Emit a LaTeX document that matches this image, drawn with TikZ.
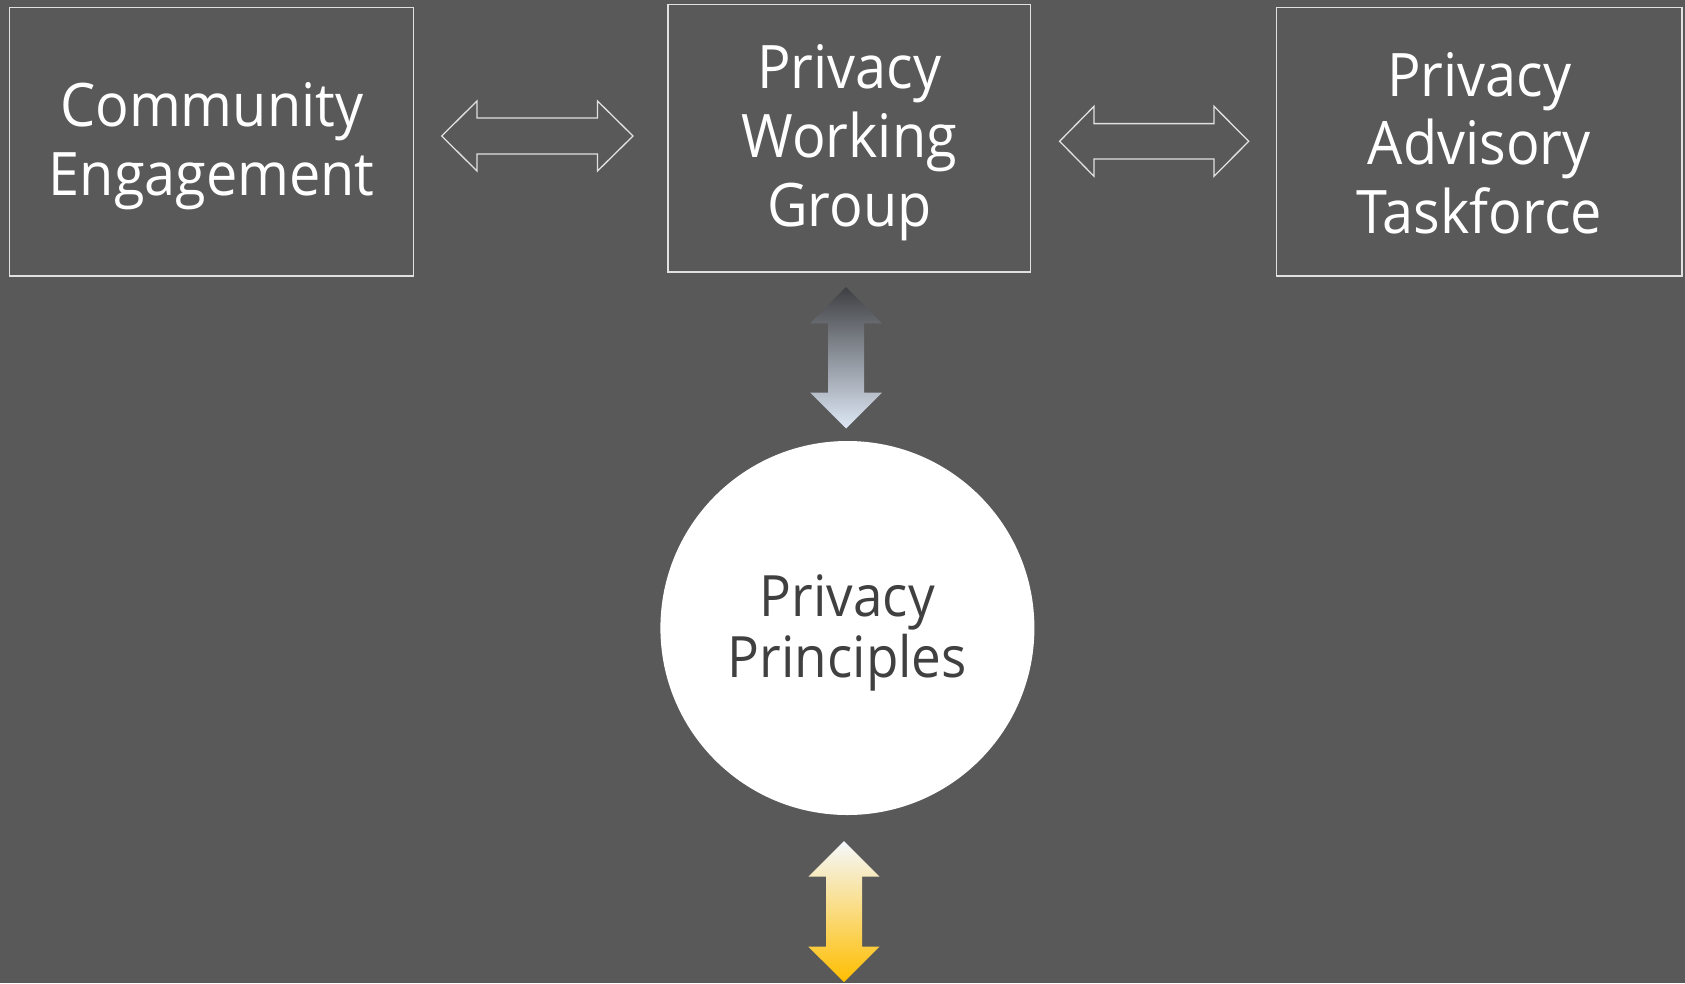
\documentclass[tikz,border=0pt]{standalone}
\usepackage{fontspec}
\setmainfont{Open Sans}[FakeStretch=0.93]
\usetikzlibrary{calc}
\definecolor{bg}{RGB}{89,89,89}
\definecolor{edge}{RGB}{225,225,225}
\definecolor{dtext}{RGB}{64,64,64}
\newcommand\topst[1]{\rule{0pt}{#1pt}}
\newcommand\botst[1]{\rule[-#1pt]{0pt}{#1pt}}
\tikzset{
  box/.style={draw=edge, line width=1.5pt, rectangle, align=center, text=white,
    font=\fontsize{60}{68.7}\selectfont, inner sep=0pt},
  hollow/.style={draw=edge, line width=1.3pt, line join=miter},
}
\begin{document}
\begin{tikzpicture}[x=1pt,y=-1pt]
\fill[bg] (0,0) rectangle (1685,983);
\useasboundingbox (0,0) rectangle (1685,983);
\node[box, minimum width=404pt, minimum height=268.5pt] (ce) at (211.7,141.75)
  {\topst{53}Community\\Engagement\botst{7}};
\node[box, minimum width=362.5pt, minimum height=267.7pt] (pwg) at (849.25,138.15)
  {\topst{53}Privacy\\Working\\Group\botst{7}};
\node[box, minimum width=405.2pt, minimum height=268.5pt] (pat) at (1479.2,141.75)
  {\topst{53}Privacy\\Advisory\\Taskforce\botst{7}};
\node[circle, fill=white, minimum size=374pt, inner sep=0pt, align=center, text=dtext,
  font=\fontsize{57}{60.7}\selectfont] (pp) at (847.4,628)
  {\topst{51}Privacy\\Principles\botst{8.3}};
% horizontal hollow double arrows
\draw[hollow] (441.7,136) -- (477,101) -- (477,118) -- (597.5,118) -- (597.5,101) -- (633,136)
  -- (597.5,171) -- (597.5,154) -- (477,154) -- (477,171) -- cycle;
\draw[hollow] (1059.6,141.3) -- (1094,106.3) -- (1094,123.6) -- (1214,123.6) -- (1214,106.3)
  -- (1248.7,141.3) -- (1214,176.3) -- (1214,159) -- (1094,159) -- (1094,176.3) -- cycle;
% vertical gradient double arrows
\shade[top color={rgb,255:red,62;green,63;blue,66}, bottom color={rgb,255:red,222;green,232;blue,246}]
  (846,287) -- (881.8,323.3) -- (864,323.3) -- (864,392.7) -- (881.8,392.7) -- (846,428.5)
  -- (810.2,392.7) -- (828,392.7) -- (828,323.3) -- (810.2,323.3) -- cycle;
\shade[top color={rgb,255:red,245;green,248;blue,252}, middle color={rgb,255:red,251;green,222;blue,170},
  bottom color={rgb,255:red,255;green,190;blue,0}]
  (844,841) -- (879.5,876.7) -- (862,876.7) -- (862,946.7) -- (879.5,946.7) -- (844,982)
  -- (808.3,946.7) -- (826,946.7) -- (826,876.7) -- (808.3,876.7) -- cycle;
\end{tikzpicture}
\end{document}
